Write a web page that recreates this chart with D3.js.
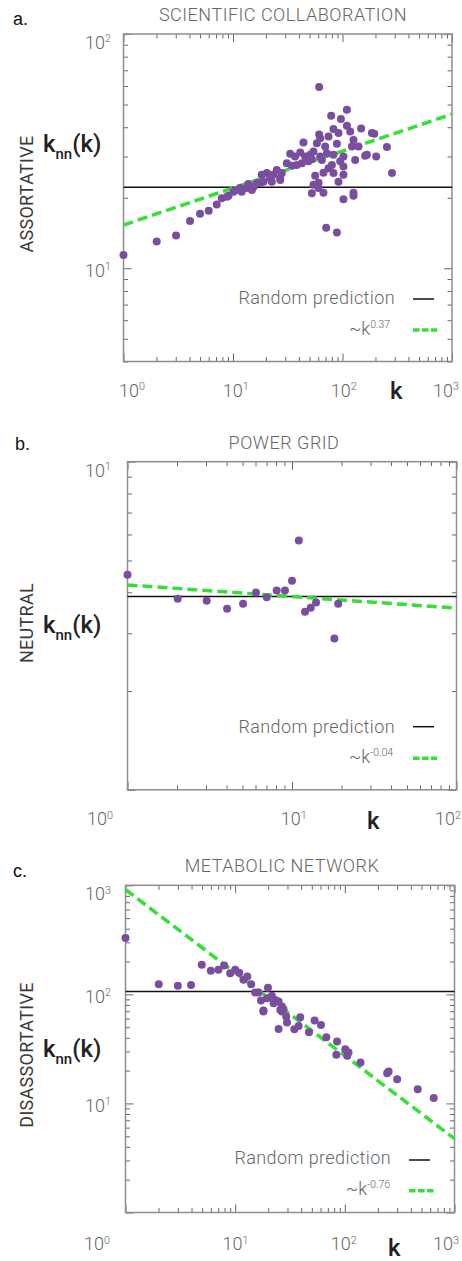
<!DOCTYPE html>
<html><head><meta charset="utf-8">
<script src="https://cdn.jsdelivr.net/npm/d3@7"></script>
<style>body{margin:0;background:#fff}svg{display:block}</style>
</head><body><svg id="chart" width="462" height="1261"></svg>
<script>
// ================= DATA =================
// Panel a: scientific collaboration
const collabK   = [61.2,109.7,78.8,96.7,82.7,91.9,109.7,117.6,148,185.6,195,61.2,62.5,58.3,74.5,69.5,88.9,126,140,122,44,254.6,
  33.3,36.9,41.1,45.6,50.7,54.3,62.5,72,82.7,102,130.6,161,167,203,31,34.5,38.3,42.6,48.9,52.5,25.1,27.9,23.4,20.4,18.3,21.8,27,
  64.8,80,74.5,67,82.7,95.3,102,102,56.3,91.9,283,16.5,13.8,15.4,13.4,14.9,11.6,10.1,10.8,12.0,8.8,7.9,54.3,60.4,52.5,67,126,102,
  17.7,19.0,22.6,27,9.1,7.1,6.0,5.0,4.05,3.02,2.01,1.0,60.4,126,71,88.9];
const collabKnn = [59.4,47.5,44.8,43.4,39.3,37.8,40.6,38.4,39.5,37.8,37.5,37.2,35.9,34.2,36.5,33.1,34.0,35.3,33.1,33.1,34.4,32.9,
  30.8,30.0,31.2,30.0,30.5,31.5,30.0,31.0,30.5,30.0,29.0,30.2,30.5,30.0,28.1,27.4,27.6,28.1,28.6,29.2,26.3,25.5,25.1,25.5,25.1,24.3,24.3,
  29.0,27.6,26.7,25.6,25.5,28.6,27.2,25.1,24.8,23.4,25.5,23.1,22.9,22.3,22.0,21.6,22.0,21.2,21.6,21.2,20.2,19.9,22.7,22.0,20.9,21.0,21.0,19.7,
  23.1,23.4,23.4,23.8,20.4,18.7,17.6,17.1,15.9,13.8,13.0,11.4,23.2,20.4,14.9,14.2];
const collabRandom = 22.2;
const collabFitK = [1, 1000];
const collabFitKnn = [15.3, 45.5];
const collabExponent = "0.37";

// Panel b: power grid
const gridK   = [1.0,2.02,3.03,4.03,5.04,6.04,7.02,8.07,9.06,10.0,11.0,12.0,13.0,14.0,18.1,19.1];
const gridKnn = [4.52,3.82,3.77,3.56,3.69,3.99,3.86,4.05,4.05,4.34,5.75,3.49,3.59,3.72,2.89,3.69];
const gridRandom = 3.88;
const gridFitK = [1, 100];
const gridFitKnn = [4.21, 3.58];
const gridExponent = "-0.04";

// Panel c: metabolic network
const metabK   = [1.0,2.01,3.0,3.96,4.96,6.0,7.04,7.94,9.0,10.0,10.9,11.9,12.9,14.0,15.2,16.3,17.2,18.1,19.9,19.5,21.6,22.4,23.2,24.9,
  26.7,27.6,25.8,29.2,39.2,53,18.1,26.7,29.7,24.9,34.6,37.9,47.1,60.6,67.8,84.9,83.6,101,108,105,139,243,251,300,462,647];
const metabKnn = [328,124,120,122,187,165,168,184,156,168,158,136,146,124,104,104,87.7,71,115,92.3,96.9,83,89,85.9,
  77.3,73.1,72.1,62.6,61.8,57.5,69.5,69.5,55.1,48.2,48.0,51.4,45.0,52.5,40.5,36.9,27.9,31.4,29.3,27.3,23.7,18.9,19.6,16.7,13.5,11.2];
const metabRandom = 106;
const metabFitK = [1, 1000];
const metabFitKnn = [912, 4.75];
const metabExponent = "-0.76";

// Tick labels (powers of ten)
const collabXTickExp = [0,1,2,3];
const collabYTickExp = [1,2];
const gridXTickExp = [0,1,2];
const gridYTickExp = [1];
const metabXTickExp = [0,1,2,3];
const metabYTickExp = [1,2,3];

// ================= LAYOUT =================
const panels = [
  { letter:"a.", title:"SCIENTIFIC COLLABORATION", vLabel:"ASSORTATIVE",
    k:collabK, knn:collabKnn, random:collabRandom, fitK:collabFitK, fitKnn:collabFitKnn, exponent:collabExponent,
    xExp:collabXTickExp, yExp:collabYTickExp,
    xDomain:[1,1000], yDomain:[4,100],
    frame:{l:123.5,r:452,t:34,b:361.5},
    letterPos:[13,25], titlePos:[283,20.7], knnY:152, vCenter:194,
    xLabelDx:[8.5,2.7,1.3,-6], xLabelBase:396.5, kLabel:[390,399],
    leg:{randRight:395, randBase:304, randLine:[413,434], randY:299, fitX:349, fitBase:335, fitLine:[413,437], fitY:330}
  },
  { letter:"b.", title:"POWER GRID", vLabel:"NEUTRAL",
    k:gridK, knn:gridKnn, random:gridRandom, fitK:gridFitK, fitKnn:gridFitKnn, exponent:gridExponent,
    xExp:gridXTickExp, yExp:gridYTickExp,
    xDomain:[1,100], yDomain:[1,10],
    frame:{l:127.5,r:456.5,t:461.7,b:789.8},
    letterPos:[15,450], titlePos:[284,449], knnY:633, vCenter:623,
    xLabelDx:[-27.5,1.7,-8.5], xLabelBase:825, kLabel:[367,829],
    leg:{randRight:395, randBase:732.7, randLine:[413,434], randY:726.7, fitX:349, fitBase:763, fitLine:[413,437], fitY:758.3}
  },
  { letter:"c.", title:"METABOLIC NETWORK", vLabel:"DISASSORTATIVE",
    k:metabK, knn:metabKnn, random:metabRandom, fitK:metabFitK, fitKnn:metabFitKnn, exponent:metabExponent,
    xExp:metabXTickExp, yExp:metabYTickExp,
    xDomain:[1,1000], yDomain:[1,1000],
    frame:{l:125.5,r:454.5,t:885.3,b:1212.5},
    letterPos:[13,877], titlePos:[282,872], knnY:1057, vCenter:1055,
    xLabelDx:[-28.5,0.3,-1,-8.5], xLabelBase:1250, kLabel:[388,1256],
    leg:{randRight:391, randBase:1164, randLine:[409,430], randY:1160, fitX:346, fitBase:1195, fitLine:[409,434], fitY:1190.7}
  }
];

const PURPLE = "#7a4e9f", GREEN = "#33e033", GRAY_TXT = "#666", LIGHT = "Roboto, 'Open Sans', sans-serif";
const svg = d3.select("#chart");

function logTicks(dom){
  const major=[], minor=[];
  const e0=Math.floor(Math.log10(dom[0])), e1=Math.ceil(Math.log10(dom[1]));
  for(let e=e0;e<=e1;e++) for(let m=1;m<10;m++){
    const v=m*Math.pow(10,e);
    if(v>=dom[0]*0.9999 && v<=dom[1]*1.0001) (m===1?major:minor).push(v);
  }
  return {major, minor};
}

function pow10Label(sel, exp, fs){
  sel.append("tspan").text("10");
  sel.append("tspan").attr("font-size", fs*0.6).attr("dy", -fs*0.36).text(String(exp));
}

panels.forEach(P => {
  const f = P.frame;
  const x = d3.scaleLog().domain(P.xDomain).range([f.l, f.r]);
  const y = d3.scaleLog().domain(P.yDomain).range([f.b, f.t]);
  const g = svg.append("g");
  const W = f.r - f.l, H = f.b - f.t;

  // ticks via d3 axes (inward)
  const xt = logTicks(P.xDomain), yt = logTicks(P.yDomain);
  const axes = [
    [d3.axisBottom, x, `translate(0,${f.b})`, xt],
    [d3.axisTop, x, `translate(0,${f.t})`, xt],
    [d3.axisLeft, y, `translate(${f.l},0)`, yt],
    [d3.axisRight, y, `translate(${f.r},0)`, yt]
  ];
  axes.forEach(([fn, sc, tr, t]) => {
    [[t.minor, 4.5],[t.major, 8]].forEach(([vals, len]) => {
      const a = g.append("g").attr("transform", tr)
        .call(fn(sc).tickValues(vals).tickSize(-len).tickFormat(""));
      a.select(".domain").remove();
      a.selectAll(".tick line").attr("stroke","#666").attr("stroke-width",1);
    });
  });

  // frame
  g.append("rect").attr("x",f.l).attr("y",f.t).attr("width",W).attr("height",H)
    .attr("fill","none").attr("stroke","#8e8e8e").attr("stroke-width",1.5);

  // random prediction line
  g.append("line").attr("x1",f.l).attr("x2",f.r).attr("y1",y(P.random)).attr("y2",y(P.random))
    .attr("stroke","#111").attr("stroke-width",1.5);

  // fit line
  const fitData = P.fitK.map((k,i)=>[k,P.fitKnn[i]]);
  g.append("path").datum(fitData)
    .attr("d", d3.line().x(d=>x(d[0])).y(d=>y(d[1])))
    .attr("fill","none").attr("stroke",GREEN).attr("stroke-width",3.5).attr("stroke-dasharray","10,5");

  // points
  const pts = P.k.map((k,i)=>[k,P.knn[i]]);
  g.selectAll("circle").data(pts).join("circle")
    .attr("cx",d=>x(d[0])).attr("cy",d=>y(d[1])).attr("r",4).attr("fill",PURPLE);

  // x tick labels
  P.xExp.forEach((e,i) => {
    const t = g.append("text").attr("x", x(Math.pow(10,e)) + P.xLabelDx[i]).attr("y", P.xLabelBase)
      .attr("text-anchor","middle").attr("font-family",LIGHT).attr("font-weight",300)
      .attr("font-size",18).attr("fill",GRAY_TXT);
    pow10Label(t, e, 18);
  });
  // y tick labels
  P.yExp.forEach(e => {
    const cy = Math.max(y(Math.pow(10,e)) + 2, f.t + 8.5);
    const t = g.append("text").attr("x", 111).attr("y", cy + 6.3)
      .attr("text-anchor","end").attr("font-family",LIGHT).attr("font-weight",300)
      .attr("font-size",18).attr("fill",GRAY_TXT);
    pow10Label(t, e, 18);
  });

  // panel letter
  g.append("text").attr("x",P.letterPos[0]).attr("y",P.letterPos[1])
    .attr("font-family","'Liberation Sans', Arial, sans-serif").attr("font-size",18).attr("fill","#111").text(P.letter);
  // title
  g.append("text").attr("x",P.titlePos[0]).attr("y",P.titlePos[1]).attr("text-anchor","middle")
    .attr("font-family",LIGHT).attr("font-weight",300).attr("font-size",18).attr("letter-spacing",0.5)
    .attr("fill",GRAY_TXT).text(P.title);
  // vertical label
  g.append("text").attr("transform",`translate(33,${P.vCenter}) rotate(-90)`).attr("text-anchor","middle")
    .attr("font-family",LIGHT).attr("font-size",18).attr("letter-spacing",0.3).attr("fill","#3a3a3a").text(P.vLabel);
  // knn label
  const kt = g.append("text").attr("x",43).attr("y",P.knnY).attr("font-family",LIGHT)
    .attr("font-weight",500).attr("font-size",24).attr("fill","#222");
  kt.append("tspan").text("k");
  kt.append("tspan").attr("font-size",15).attr("dy",7).text("nn");
  kt.append("tspan").attr("dy",-7).text("(k)");
  // k axis label
  g.append("text").attr("x",P.kLabel[0]).attr("y",P.kLabel[1]).attr("font-family",LIGHT)
    .attr("font-weight",500).attr("font-size",24).attr("fill","#222").text("k");

  // legend
  const L = P.leg;
  g.append("text").attr("x",L.randRight).attr("y",L.randBase).attr("text-anchor","end")
    .attr("font-family",LIGHT).attr("font-weight",300).attr("font-size",18).attr("letter-spacing",0.4)
    .attr("fill",GRAY_TXT).text("Random prediction");
  g.append("line").attr("x1",L.randLine[0]).attr("x2",L.randLine[1]).attr("y1",L.randY).attr("y2",L.randY)
    .attr("stroke","#111").attr("stroke-width",1.5);
  const ft = g.append("text").attr("x",L.fitX).attr("y",L.fitBase)
    .attr("font-family",LIGHT).attr("font-weight",300).attr("font-size",18).attr("fill",GRAY_TXT);
  ft.append("tspan").text("~k");
  ft.append("tspan").attr("font-size",10.5).attr("dy",-7).text(P.exponent);
  g.append("line").attr("x1",L.fitLine[0]).attr("x2",L.fitLine[1]).attr("y1",L.fitY).attr("y2",L.fitY)
    .attr("stroke",GREEN).attr("stroke-width",3.5).attr("stroke-dasharray","6.5,2.5");
});
</script>
</body></html>
